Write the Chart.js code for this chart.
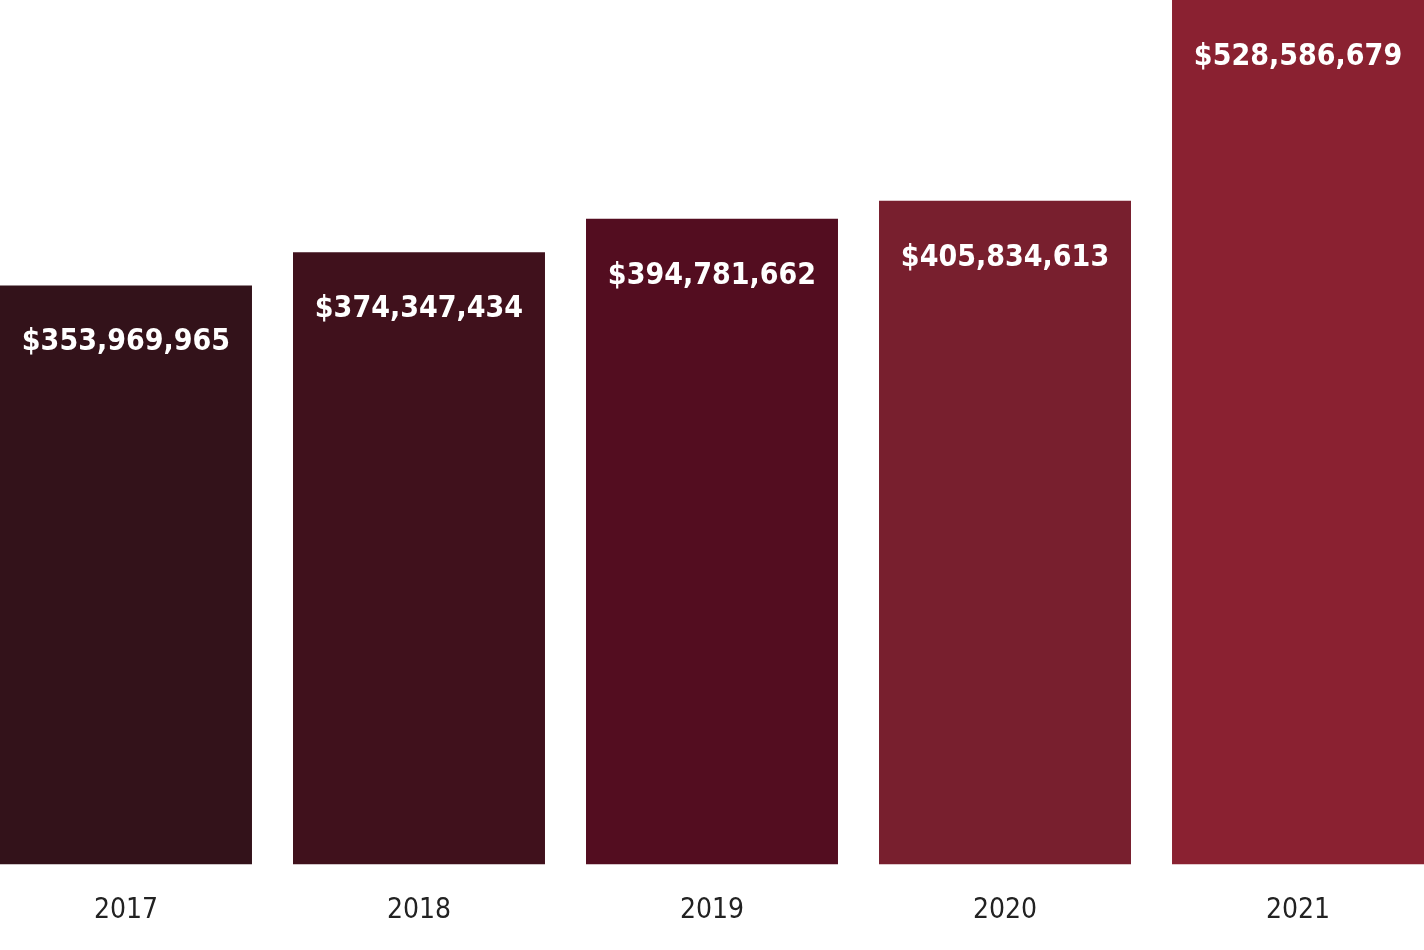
<!DOCTYPE html>
<html>
<head>
<meta charset="utf-8">
<script src="https://cdn.jsdelivr.net/npm/chart.js@4"></script>
<style>
  html, body { margin: 0; padding: 0; background: #fff; }
</style>
</head>
<body>
<canvas id="myChart" width="1424" height="950"></canvas>
<script>
const years = ['2017', '2018', '2019', '2020', '2021'];
const totals = [353969965, 374347434, 394781662, 405834613, 528586679];
const barColors = ['#33121a', '#40111c', '#530d20', '#781f2e', '#8a2131'];

const ctx = document.getElementById('myChart').getContext('2d');

const valueLabels = {
  id: 'valueLabels',
  afterDatasetsDraw(chart) {
    const c = chart.ctx;
    const meta = chart.getDatasetMeta(0);
    c.save();
    c.fillStyle = '#ffffff';
    c.font = 'bold 30px "DejaVu Sans Condensed", "Roboto Condensed", sans-serif';
    c.textAlign = 'center';
    c.textBaseline = 'middle';
    meta.data.forEach((bar, i) => {
      c.fillText('$' + totals[i].toLocaleString('en-US'), bar.x, bar.y + 57);
    });
    c.restore();
  }
};

new Chart(ctx, {
  type: 'bar',
  data: {
    datasets: [{
      data: totals.map((v, i) => ({ x: i, y: v })),
      backgroundColor: barColors,
      borderWidth: 0,
      barPercentage: 0.86,
      categoryPercentage: 1
    }]
  },
  options: {
    responsive: false,
    animation: false,
    devicePixelRatio: 1,
    layout: { padding: 0 },
    plugins: { legend: { display: false }, tooltip: { enabled: false } },
    scales: {
      x: {
        type: 'linear',
        min: -0.43,
        max: 4.43,
        offset: false,
        grid: { display: false },
        border: { display: false },
        afterBuildTicks(scale) {
          scale.ticks = years.map((y, i) => ({ value: i }));
        },
        ticks: {
          color: '#222222',
          padding: 22,
          font: { size: 28, family: '"DejaVu Sans Condensed", sans-serif' },
          callback: (v) => years[v]
        }
      },
      y: {
        display: false,
        min: 0,
        max: 528586679
      }
    }
  },
  plugins: [valueLabels]
});
</script>
</body>
</html>
